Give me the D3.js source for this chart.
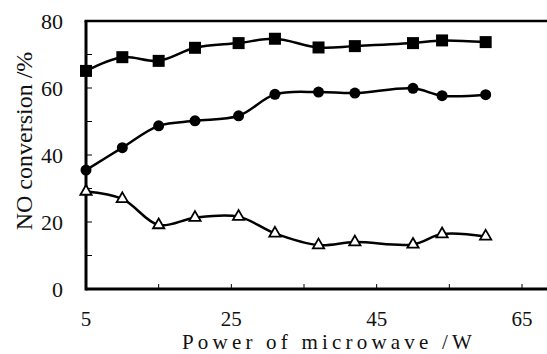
<!DOCTYPE html>
<html>
<head>
<meta charset="utf-8">
<script src="https://d3js.org/d3.v7.min.js"></script>
<style>
    body { margin: 0; background: #fff; }
    text { font-family: "Liberation Serif", "DejaVu Serif", Times, serif; fill: #111; }
</style>
</head>
<body>
<div id="chart"></div>
<script>
    // power of microwave (W)
    const power = [5, 10, 15, 20, 26, 31, 37, 42, 50, 54, 60];
    // NO conversion (%)
    const squareSeries = [65.1, 69.2, 68.1, 72.0, 73.4, 74.7, 72.1, 72.5, 73.4, 74.2, 73.7];
    const circleSeries = [35.5, 42.2, 48.7, 50.2, 51.7, 58.1, 58.8, 58.5, 59.9, 57.7, 58.0];
    const triangleSeries = [29.1, 26.9, 19.1, 21.3, 21.6, 16.6, 13.1, 14.0, 13.3, 16.4, 15.7];
    const xTicks = [5, 15, 25, 35, 45, 55, 65];
    const xLabels = [5, 25, 45, 65];
    const yTicks = [0, 10, 20, 30, 40, 50, 60, 70, 80];
    const yLabels = [0, 20, 40, 60, 80];

    const width = 547, height = 354;
    const svg = d3.select("#chart").append("svg")
        .attr("width", width)
        .attr("height", height);

    const x = d3.scaleLinear().domain([5, 65]).range([86, 522]);
    const y = d3.scaleLinear().domain([0, 80]).range([289, 21]);

    // axes frame
    svg.append("line")
        .attr("x1", x(5)).attr("x2", width)
        .attr("y1", y(0)).attr("y2", y(0))
        .attr("stroke", "#000").attr("stroke-width", 3);
    svg.append("line")
        .attr("x1", x(5)).attr("x2", x(5))
        .attr("y1", y(0) + 1.5).attr("y2", y(80))
        .attr("stroke", "#000").attr("stroke-width", 3);
    svg.append("line")
        .attr("x1", x(5) - 1.5).attr("x2", width)
        .attr("y1", y(80)).attr("y2", y(80))
        .attr("stroke", "#000").attr("stroke-width", 2.5);

    // inward ticks
    svg.selectAll(".xtick").data(xTicks.slice(1)).enter().append("line")
        .attr("x1", d => x(d)).attr("x2", d => x(d))
        .attr("y1", y(0)).attr("y2", y(0) - 5)
        .attr("stroke", "#000").attr("stroke-width", 1);
    svg.selectAll(".ytick").data(yTicks.slice(1, -1)).enter().append("line")
        .attr("x1", x(5)).attr("x2", x(5) + 6)
        .attr("y1", d => y(d)).attr("y2", d => y(d))
        .attr("stroke", "#000").attr("stroke-width", 1);

    svg.selectAll(".xlab").data(xLabels).enter().append("text")
        .attr("x", d => x(d))
        .attr("y", 326)
        .attr("text-anchor", "middle")
        .attr("font-size", 21)
        .text(d => d);
    svg.selectAll(".ylab").data(yLabels).enter().append("text")
        .attr("x", 63)
        .attr("y", d => y(d))
        .attr("dy", "0.35em")
        .attr("text-anchor", "end")
        .attr("font-size", 22)
        .text(d => d);

    svg.append("text")
        .attr("x", 329).attr("y", 348.5)
        .attr("text-anchor", "middle")
        .attr("font-size", 21)
        .attr("letter-spacing", 4.2)
        .text("Power of microwave /W");
    svg.append("text")
        .attr("transform", "translate(32,141) rotate(-90)")
        .attr("text-anchor", "middle")
        .attr("font-size", 24)
        .text("NO conversion /%");

    const line = d3.line()
        .x((d, i) => x(power[i]))
        .y(d => y(d))
        .curve(d3.curveCatmullRom.alpha(0.5));

    [squareSeries, circleSeries, triangleSeries].forEach(s => {
        svg.append("path")
            .attr("d", line(s))
            .attr("fill", "none")
            .attr("stroke", "#000")
            .attr("stroke-width", 2.5);
    });

    svg.selectAll(".sq").data(squareSeries).enter().append("rect")
        .attr("x", (d, i) => x(power[i]) - 6)
        .attr("y", d => y(d) - 6)
        .attr("width", 12).attr("height", 12)
        .attr("fill", "#000");

    svg.selectAll(".ci").data(circleSeries).enter().append("circle")
        .attr("cx", (d, i) => x(power[i]))
        .attr("cy", d => y(d))
        .attr("r", 5.5)
        .attr("fill", "#000");

    const tri = d3.symbol().type(d3.symbolTriangle).size(55);
    svg.selectAll(".tr").data(triangleSeries).enter().append("path")
        .attr("d", tri)
        .attr("transform", (d, i) => `translate(${x(power[i])},${y(d)})`)
        .attr("fill", "#fff")
        .attr("stroke", "#000")
        .attr("stroke-width", 1.8);
</script>
</body>
</html>
